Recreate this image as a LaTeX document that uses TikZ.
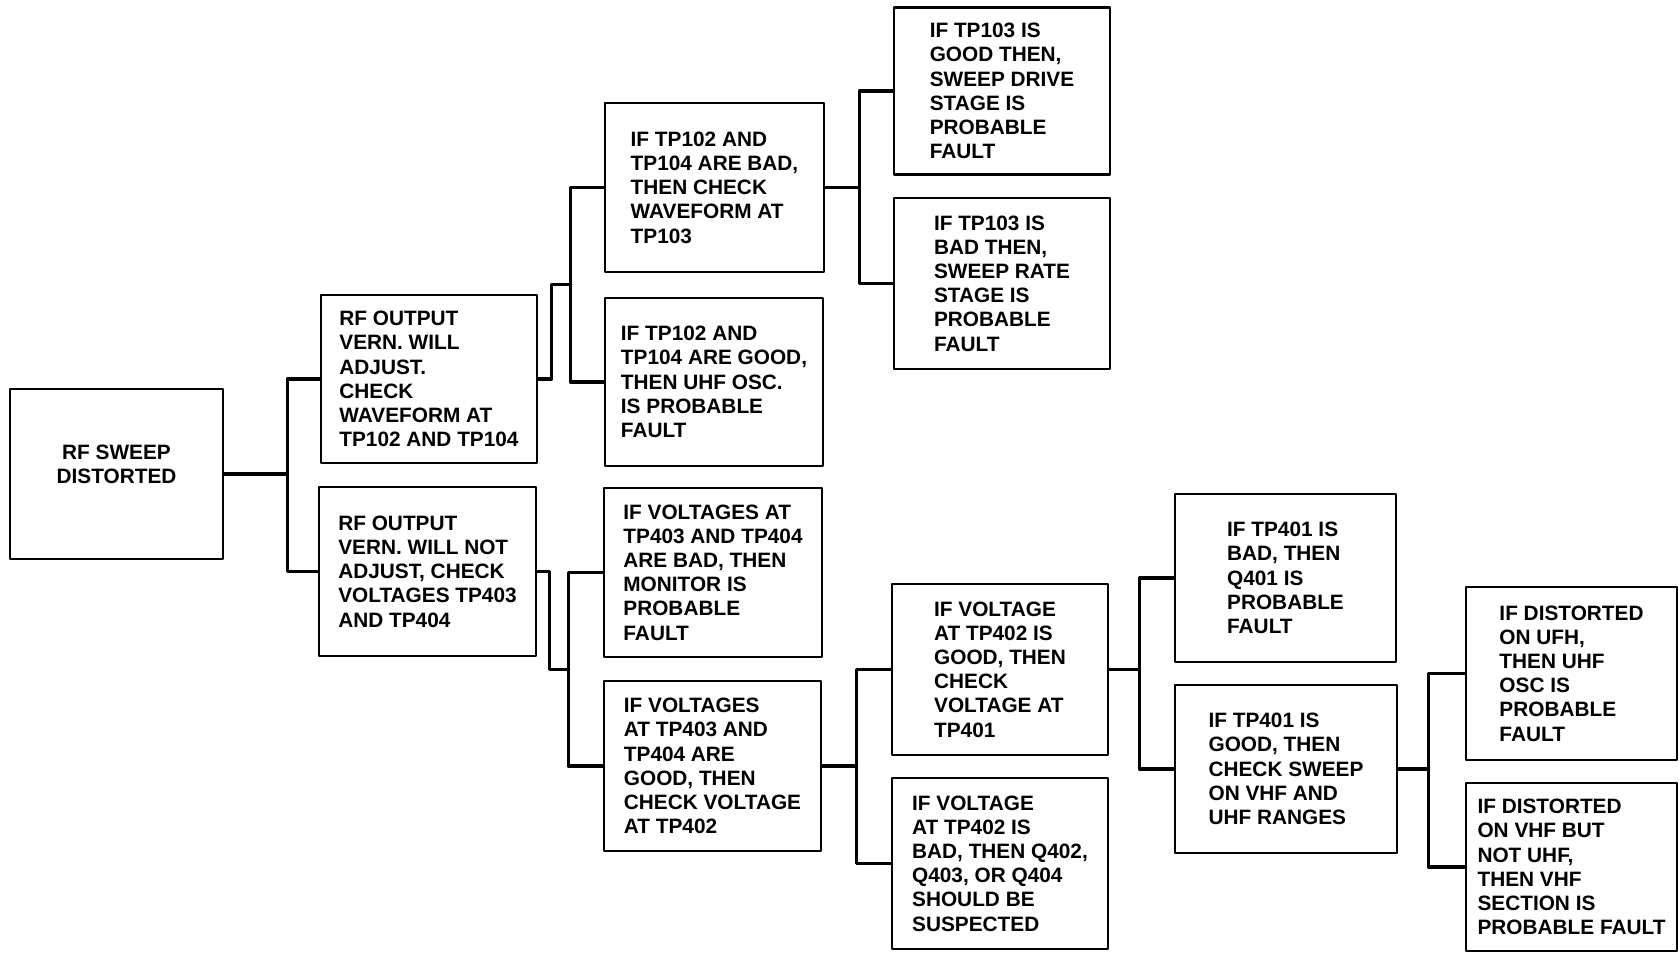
\documentclass[tikz,border=0pt]{standalone}
\usepackage{fontspec}
\setmainfont{Liberation Sans}
\usetikzlibrary{calc}
\begin{document}
\begin{tikzpicture}[x=0.5pt, y=-0.5pt, line cap=round, line join=round,
    font=\bfseries\fontsize{10.4}{12.1}\selectfont,
    box/.style={draw, line width=1.4pt, align=left, inner sep=0pt},
    link/.style={line width=1.7pt}]
  \useasboundingbox (0,0) rectangle (1679,954);
  % boxes
  \node[box, align=center, text depth=10pt, minimum width=106.5pt, minimum height=85pt] (sweep) at (116.5,474) {RF SWEEP\\DISTORTED};
  \node[box, minimum width=108pt, minimum height=84pt] (adj) at (429,379) {RF OUTPUT\\VERN. WILL\\ADJUST.\\CHECK\\WAVEFORM AT\\TP102 AND TP104};
  \node[box, minimum width=108.5pt, minimum height=84.5pt] (noadj) at (427.5,571.5) {RF OUTPUT\\VERN. WILL NOT\\ADJUST, CHECK\\VOLTAGES TP403\\AND TP404};
  \node[box, minimum width=109.5pt, minimum height=84.5pt] (tpbad) at (714.5,187.5) {IF TP102 AND\\TP104 ARE BAD,\\THEN CHECK\\WAVEFORM AT\\TP103};
  \node[box, minimum width=109pt, minimum height=84pt] (tpgood) at (714,382) {IF TP102 AND\\TP104 ARE GOOD,\\THEN UHF OSC.\\IS PROBABLE\\FAULT};
  \node[box, minimum width=108pt, minimum height=83.5pt] (drive) at (1002,91) {IF TP103 IS\\GOOD THEN,\\SWEEP DRIVE\\STAGE IS\\PROBABLE\\FAULT};
  \node[box, minimum width=108pt, minimum height=85.5pt] (rate) at (1002,283.5) {IF TP103 IS\\BAD THEN,\\SWEEP RATE\\STAGE IS\\PROBABLE\\FAULT};
  \node[box, minimum width=109pt, minimum height=84.5pt] (volbad) at (713,572.5) {IF VOLTAGES AT\\TP403 AND TP404\\ARE BAD, THEN\\MONITOR IS\\PROBABLE\\FAULT};
  \node[box, minimum width=108.5pt, minimum height=85pt] (volgood) at (712.5,766) {IF VOLTAGES\\AT TP403 AND\\TP404 ARE\\GOOD, THEN\\CHECK VOLTAGE\\AT TP402};
  \node[box, minimum width=108pt, minimum height=85.5pt] (vgood) at (1000,669.5) {IF VOLTAGE\\AT TP402 IS\\GOOD, THEN\\CHECK\\VOLTAGE AT\\TP401};
  \node[box, minimum width=108pt, minimum height=85.5pt] (vbad) at (1000,863.5) {IF VOLTAGE\\AT TP402 IS\\BAD, THEN Q402,\\Q403, OR Q404\\SHOULD BE\\SUSPECTED};
  \node[box, minimum width=110.5pt, minimum height=84pt] (qbad) at (1285.5,578) {IF TP401 IS\\BAD, THEN\\Q401 IS\\PROBABLE\\FAULT};
  \node[box, minimum width=111pt, minimum height=84pt] (qgood) at (1286,769) {IF TP401 IS\\GOOD, THEN\\CHECK SWEEP\\ON VHF AND\\UHF RANGES};
  \node[box, minimum width=105.5pt, minimum height=86.5pt] (uhf) at (1571.5,673.5) {IF DISTORTED\\ON UFH,\\THEN UHF\\OSC IS\\PROBABLE\\FAULT};
  \node[box, minimum width=105.5pt, minimum height=84pt] (vhf) at (1571.5,867) {IF DISTORTED\\ON VHF BUT\\NOT UHF,\\THEN VHF\\SECTION IS\\PROBABLE FAULT};
  % forks
  \draw[link] (sweep.east) -- ++(63,0) coordinate (j1);
  \draw[link] (adj.west) -| (j1) |- (noadj.west);
  \coordinate (j2) at ($(tpbad.west)!.5!(tpgood.west) + (-33,0)$);
  \draw[link] (tpbad.west) -| (j2) |- (tpgood.west);
  \draw[link] (adj.east) -- ++(13,0) |- (j2);
  \coordinate (j3) at ($(volbad.west)!.5!(volgood.west) + (-34,0)$);
  \draw[link] (volbad.west) -| (j3) |- (volgood.west);
  \draw[link] (noadj.east) -- ++(12,0) |- (j3);
  \draw[link] (tpbad.east) -- ++(34,0) coordinate (j4);
  \draw[link] (drive.west) -| (j4) |- (rate.west);
  \draw[link] (volgood.east) -- ++(34,0) coordinate (j5);
  \draw[link] (vgood.west) -| (j5) |- (vbad.west);
  \draw[link] (vgood.east) -- ++(30,0) coordinate (j6);
  \draw[link] (qbad.west) -| (j6) |- (qgood.west);
  \draw[link] (qgood.east) -- ++(30,0) coordinate (j7);
  \draw[link] (uhf.west) -| (j7) |- (vhf.west);
\end{tikzpicture}
\end{document}
